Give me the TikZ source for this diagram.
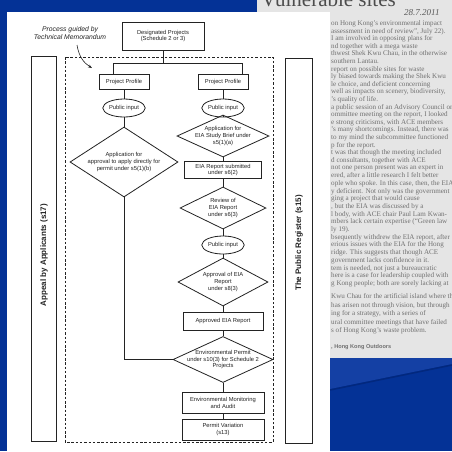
\documentclass[tikz,border=0pt]{standalone}
\usepackage{fontspec}
\setmainfont{Liberation Serif}
\newfontfamily\arialf{Liberation Sans}
\usetikzlibrary{shapes.geometric,arrows.meta}
\definecolor{bgblue}{RGB}{4,50,150}
\definecolor{bgbluel}{RGB}{20,64,164}
\definecolor{bgblued}{RGB}{2,40,126}
\definecolor{paper}{RGB}{229,229,229}
\definecolor{ink}{RGB}{35,35,35}
\definecolor{newsink}{RGB}{112,112,112}
\newcommand\nwl[3]{\node[news] (#1) at (331,#2) {#3};}
\begin{document}
\begin{tikzpicture}[x=1pt,y=-1pt,
  ln/.style={draw=ink,line width=0.8pt},
  txt/.style={font=\arialf\fontsize{5.8}{6.9}\selectfont,align=center,text=ink,inner sep=0pt},
  boxn/.style={ln,rectangle,txt},
  dia/.style={ln,diamond,inner sep=0pt},
  ell/.style={ln,ellipse,txt,minimum width=40pt,minimum height=18pt},
  side/.style={font=\arialf\bfseries\fontsize{8}{9}\selectfont,text=ink,rotate=90,inner sep=0pt},
  news/.style={font=\fontsize{7.1}{7.6}\selectfont,text=newsink,inner sep=0pt,anchor=base west},
]
\useasboundingbox (0,0) rectangle (452,451);
\clip (0,0) rectangle (452,451);
% background
\fill[bgblue] (0,0) rectangle (452,451);
\fill[bgbluel] (330,358) -- (452,358) -- (452,364) -- (330,389) -- cycle;
\draw[bgblued,line width=1.5pt] (330,390) -- (452,365);
% newspaper clipping
\fill[paper] (257,0) rectangle (452,358);
\node[font=\fontsize{21}{22}\selectfont,text=black!70,anchor=base west,inner sep=0pt] (head) at (261,6.5) {Vulnerable sites};
\node[font=\itshape\fontsize{9}{9}\selectfont,text=black!65,anchor=base west,inner sep=0pt] (date) at (404,15) {28.7.2011};
\nwl{n0}{25.5}{on Hong Kong's environmental impact}
\nwl{n1}{33.1}{assessment in need of review'', July 22).}
\nwl{n2}{40.7}{I am involved in opposing plans for}
\nwl{n3}{48.3}{nd together with a mega waste}
\nwl{n4}{55.9}{thwest Shek Kwu Chau, in the otherwise}
\nwl{n5}{63.5}{southern Lantau.}
\nwl{n6}{71.1}{report on possible sites for waste}
\nwl{n7}{78.7}{ly biased towards making the Shek Kwu}
\nwl{n8}{86.3}{le choice, and deficient concerning}
\nwl{n9}{93.9}{well as impacts on scenery, biodiversity,}
\nwl{n10}{101.5}{'s quality of life.}
\nwl{n11}{109.1}{a public session of an Advisory Council on}
\nwl{n12}{116.7}{ommittee meeting on the report, I looked}
\nwl{n13}{124.3}{e strong criticisms, with ACE members}
\nwl{n14}{131.9}{'s many shortcomings. Instead, there was}
\nwl{n15}{139.5}{to my mind the subcommittee functioned}
\nwl{n16}{147.1}{p for the report.}
\nwl{n17}{154.5}{t was that though the meeting included}
\nwl{n18}{162.2}{d consultants, together with ACE}
\nwl{n19}{169.9}{not one person present was an expert in}
\nwl{n20}{177.6}{ered, after a little research I felt better}
\nwl{n21}{185.3}{ople who spoke. In this case, then, the EIA}
\nwl{n22}{193.0}{y deficient. Not only was the government}
\nwl{n23}{200.7}{ging a project that would cause}
\nwl{n24}{208.4}{, but the EIA was discussed by a}
\nwl{n25}{216.1}{l body, with ACE chair Paul Lam Kwan-}
\nwl{n26}{223.8}{mbers lack certain expertise (``Green law}
\nwl{n27}{231.5}{ly 19).}
\nwl{n28}{239.2}{bsequently withdrew the EIA report, after}
\nwl{n29}{246.9}{erious issues with the EIA for the Hong}
\nwl{n30}{254.6}{ridge. This suggests that though ACE}
\nwl{n31}{262.3}{government lacks confidence in it.}
\nwl{n32}{270.0}{tem is needed, not just a bureaucratic}
\nwl{n33}{277.7}{here is a case for leadership coupled with}
\nwl{n34}{285.4}{g Kong people; both are sorely lacking at}
\nwl{n35}{298.5}{Kwu Chau for the artificial island where the}
\nwl{n36}{307.0}{has arisen not through vision, but through}
\nwl{n37}{315.5}{ing for a strategy, with a series of}
\nwl{n38}{324.0}{ural committee meetings that have failed}
\nwl{n39}{332.5}{s of Hong Kong's waste problem.}
\node[news,font=\arialf\bfseries\fontsize{5.6}{6}\selectfont] (n40) at (331,348.5) {, Hong Kong Outdoors};
% scanned page
\fill[white] (7,12) rectangle (330,451);
% annotation
\node[font=\arialf\itshape\fontsize{6.8}{7.6}\selectfont,align=center,text=ink,inner sep=0pt] (anno) at (70,33) {Process guided by\\Technical Memorandum};
\coordinate (a0) at (77,45);
\coordinate (a1) at (92,68);
\draw[draw=ink,line width=0.6pt,-{Stealth[length=4pt,width=3pt]}] (a0) .. controls (79,57) and (84,63) .. (a1);
% frames
\draw[ln,dash pattern=on 2.5pt off 1.8pt] (65,57) rectangle (273,442);
\node[ln,rectangle,minimum width=25pt,minimum height=385pt,inner sep=0pt] (appealbox) at (43.5,248.5) {};
\node[side] (appeal) at (44,255) {Appeal by Applicants (s17)};
\node[ln,rectangle,minimum width=27pt,minimum height=385pt,inner sep=0pt] (regbox) at (298.5,250.5) {};
\node[side] (reg) at (299,243) {The Public Register (s15)};
% flow nodes
\node[boxn,minimum width=82pt,minimum height=28pt] (dp) at (163,36) {Designated Projects\\(Schedule 2 or 3)};
\node[boxn,minimum width=50pt,minimum height=15pt] (pp1) at (124,81.5) {Project Profile};
\node[boxn,minimum width=50pt,minimum height=15pt] (pp2) at (223,81.5) {Project Profile};
\node[ell] (pi1) at (124,108) {Public input};
\node[ell] (pi2) at (223,108) {Public input};
\node[dia,minimum width=108pt,minimum height=70pt,label={[txt]center:{Application for\\approval to apply directly for\\permit under s5(1)(b)}}] (d1) at (124,162) {};
\node[dia,minimum width=92pt,minimum height=42pt,label={[txt]center:{Application for\\EIA Study Brief under\\s5(1)(a)}}] (d2) at (223,136) {};
\node[boxn,minimum width=77pt,minimum height=17pt] (er) at (223,170) {EIA Report submitted\\under s6(2)};
\node[dia,minimum width=86pt,minimum height=42pt,label={[txt]center:{Review of\\EIA Report\\under s6(3)}}] (rv) at (223,208) {};
\node[ell,minimum width=42pt] (pi3) at (223,245) {Public input};
\node[dia,minimum width=90pt,minimum height=48pt,label={[txt]center:{Approval of EIA\\Report\\under s8(3)}}] (ap) at (223,282) {};
\node[boxn,minimum width=80pt,minimum height=18pt] (ae) at (223,321) {Approved EIA Report};
\node[dia,minimum width=100pt,minimum height=46pt,label={[txt]center:{Environmental Permit\\under s10(3) for Schedule 2\\Projects}}] (ep) at (223,359.5) {};
\node[boxn,minimum width=82pt,minimum height=21pt] (em) at (223,402.5) {Environmental Monitoring\\and Audit};
\node[boxn,minimum width=82pt,minimum height=21pt] (pv) at (223,429.5) {Permit Variation\\(s13)};
% connectors
\coordinate (bm) at (163,63);
\coordinate (bl) at (113,63);
\coordinate (bR) at (242,63);
\draw[ln] (dp.south) -- (bm);
\draw[ln] (bl) -- (bR);
\draw[ln] (bl) -- (bl |- pp1.north);
\draw[ln] (bR) -- (bR |- pp2.north);
\draw[ln] (pp1) -- (pi1);
\draw[ln] (pi1) -- (d1);
\draw[ln] (d1.south) |- (ep.west);
\draw[ln] (pp2) -- (pi2);
\draw[ln] (pi2) -- (d2);
\draw[ln] (d2) -- (er);
\draw[ln] (er) -- (rv);
\draw[ln] (rv) -- (pi3);
\draw[ln] (pi3) -- (ap);
\draw[ln] (ap) -- (ae);
\draw[ln] (ae) -- (ep);
\draw[ln] (ep) -- (em);
\draw[ln] (em) -- (pv);
\end{tikzpicture}
\end{document}
